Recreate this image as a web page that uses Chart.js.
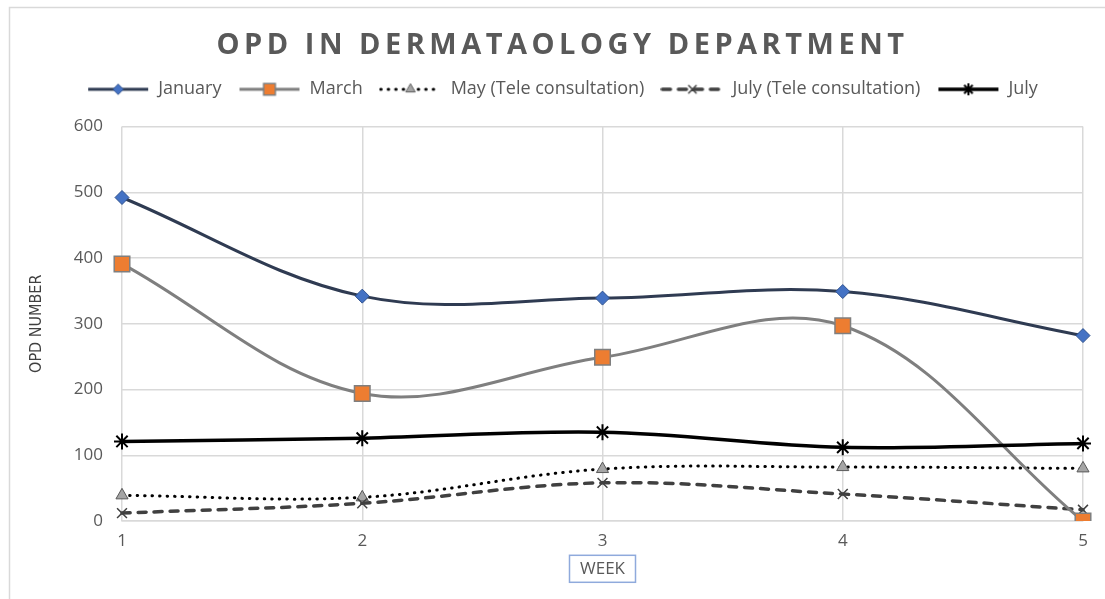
<!DOCTYPE html>
<html>
<head>
<meta charset="utf-8">
<script src="https://cdn.jsdelivr.net/npm/chart.js@4.4.1/dist/chart.umd.min.js"></script>
<style>
  html, body { margin: 0; padding: 0; background: #ffffff; }
  #wrap { width: 1105px; height: 599px; position: relative; }
</style>
</head>
<body>
<div id="wrap"><canvas id="c" width="1105" height="599"></canvas></div>
<script>
// ---- data ----
const TITLE = 'OPD IN DERMATAOLOGY DEPARTMENT';
const weeks = ['1', '2', '3', '4', '5'];
const seriesNames = ['January', 'March', 'May (Tele consultation)', 'July (Tele consultation)', 'July'];
const january = [492, 342, 339, 349, 282];
const march = [391, 194, 249, 297, 0];
const mayTele = [39, 36, 79, 82, 80];
const julyTele = [12, 27, 58, 41, 17];
const july = [121, 126, 135, 112, 118];
const yTicks = [0, 100, 200, 300, 400, 500, 600];

// ---- styles ----
const styles = [
  { color: '#2f3b52', width: 3, dash: [], marker: 'rectRot', radius: 7, fill: '#4472c4', mborder: '#2f528f', mwidth: 1 },
  { color: '#7f7f7f', width: 3, dash: [], marker: 'rect', radius: 11, fill: '#ed7d31', mborder: '#7f7f7f', mwidth: 1.5 },
  { color: '#000000', width: 3, dash: [0.5, 7], cap: 'round', marker: 'triangle', radius: 7, fill: '#a5a5a5', mborder: '#595959', mwidth: 1 },
  { color: '#404040', width: 3.5, dash: [8, 8], cap: 'round', marker: 'crossRot', radius: 7, fill: '#404040', mborder: '#404040', mwidth: 1.5 },
  { color: '#000000', width: 3.5, dash: [], marker: 'star', radius: 8, fill: '#000000', mborder: '#000000', mwidth: 2 }
];
const values = [january, march, mayTele, julyTele, july];

function legendIcon(s) {
  const cv = document.createElement('canvas');
  cv.width = 64; cv.height = 18;
  const g = cv.getContext('2d');
  g.strokeStyle = s.color; g.lineWidth = s.width; g.lineCap = s.cap || 'butt';
  g.setLineDash(s.dash);
  g.beginPath(); g.moveTo(2, 9); g.lineTo(62, 9); g.stroke();
  g.setLineDash([]);
  g.fillStyle = s.fill; g.strokeStyle = s.mborder; g.lineWidth = s.mwidth;
  Chart.helpers.drawPoint(g, { pointStyle: s.marker, radius: s.radius * 0.75, rotation: 0, borderWidth: s.mwidth }, 32, 9);
  return cv;
}

// letter-spaced title
const TitleEl = Chart.Title._element;
const origTitleDraw = TitleEl.prototype.draw;
TitleEl.prototype.draw = function () {
  const ctx = this.ctx;
  const isMain = this.options.text === TITLE;
  if (isMain) ctx.letterSpacing = '4.5px';
  origTitleDraw.call(this);
  ctx.letterSpacing = '0px';
};

const framePlugin = {
  id: 'frame',
  afterLayout(chart) {
    const shift = 21;
    if (chart.legend) { chart.legend.left += shift; chart.legend.right += shift; }
    if (chart.titleBlock) { chart.titleBlock.left += shift; chart.titleBlock.right += shift; }
  },
  beforeDraw(chart) {
    const ctx = chart.ctx;
    ctx.save();
    ctx.fillStyle = '#ffffff';
    ctx.fillRect(0, 0, chart.width, chart.height);
    ctx.strokeStyle = '#d9d9d9';
    ctx.lineWidth = 1.5;
    ctx.beginPath();
    ctx.moveTo(9.5, chart.height + 5);
    ctx.lineTo(9.5, 7.5);
    ctx.lineTo(chart.width + 5, 7.5);
    ctx.stroke();
    ctx.restore();
  },
  afterDraw(chart) {
    const xs = chart.scales.x;
    const ctx = chart.ctx;
    const lh = 17 * 1.2;
    const cy = xs.bottom - 20 - lh / 2;
    const cx = (chart.chartArea.left + chart.chartArea.right) / 2;
    ctx.save();
    ctx.strokeStyle = '#8faadc';
    ctx.lineWidth = 1.5;
    ctx.strokeRect(cx - 33, cy - 13.5, 66, 27);
    ctx.restore();
  }
};

const datasets = values.map((v, i) => {
  const s = styles[i];
  return {
    label: seriesNames[i],
    data: v,
    borderColor: s.color,
    borderWidth: s.width,
    borderDash: s.dash,
    borderCapStyle: s.cap || 'butt',
    tension: 0.36,
    pointStyle: s.marker,
    pointRadius: s.radius,
    pointBackgroundColor: s.fill,
    pointBorderColor: s.mborder,
    pointBorderWidth: s.mwidth,
    fill: false,
    order: [3, 1, 4, 2, 0][i],
    _icon: legendIcon(s)
  };
});

new Chart(document.getElementById('c'), {
  type: 'line',
  data: { labels: weeks, datasets },
  options: {
    responsive: false,
    animation: false,
    devicePixelRatio: 1,
    layout: { padding: { top: 10, left: 0, right: 22, bottom: 0 } },
    plugins: {
      tooltip: { enabled: false },
      title: {
        display: true,
        text: TITLE,
        color: '#595959',
        font: { family: "'Open Sans', sans-serif", size: 29, weight: 'bold' },
        padding: { top: 18.5, bottom: 0 }
      },
      subtitle: {
        display: true,
        text: '',
        position: 'top',
        weight: 500,
        font: { size: 1 },
        padding: { top: 17, bottom: 0 }
      },
      legend: {
        display: true,
        position: 'top',
        labels: {
          usePointStyle: true,
          pointStyleWidth: 62,
          boxHeight: 16,
          padding: 17,
          color: '#595959',
          font: { family: "'Open Sans', sans-serif", size: 18 },
          generateLabels(chart) {
            return chart.data.datasets.map((ds, i) => ({
              text: ds.label,
              pointStyle: ds._icon,
              fillStyle: 'transparent',
              strokeStyle: 'transparent',
              lineWidth: 0,
              hidden: false,
              datasetIndex: i,
              fontColor: '#595959'
            }));
          }
        }
      }
    },
    scales: {
      x: {
        type: 'category',
        offset: false,
        grid: { color: '#d9d9d9', lineWidth: 1.5, drawTicks: false },
        border: { color: '#d9d9d9', width: 1.5 },
        ticks: { color: '#595959', padding: 10, font: { family: "'Open Sans', sans-serif", size: 17 } },
        title: {
          display: true,
          text: 'WEEK',
          color: '#595959',
          font: { family: "'Open Sans', sans-serif", size: 17 },
          padding: { top: 0, bottom: 20 }
        },
        afterFit(scale) { scale.height = 78; }
      },
      y: {
        min: 0,
        max: 600,
        afterBuildTicks(scale) { scale.ticks = yTicks.map(v => ({ value: v })); },
        grid: { color: '#d9d9d9', lineWidth: 1.5, drawTicks: false },
        border: { display: false },
        ticks: { color: '#595959', padding: 19, font: { family: "'Open Sans', sans-serif", size: 17 } },
        title: {
          display: true,
          text: 'OPD NUMBER',
          color: '#404040',
          font: { family: "'Liberation Sans Narrow', 'DejaVu Sans Condensed', sans-serif", size: 16 },
          padding: { top: 27, bottom: 0 }
        },
        afterFit(scale) { scale.width = 122; }
      }
    }
  },
  plugins: [framePlugin]
});
</script>
</body>
</html>
